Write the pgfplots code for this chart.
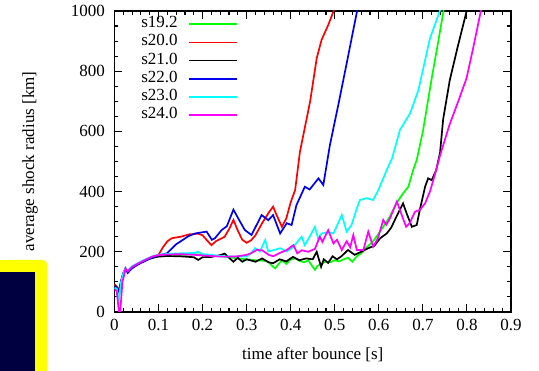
\documentclass[border=0pt]{standalone}
\usepackage{fontspec}
\setmainfont{Liberation Serif}
\usepackage{pgfplots}
\pgfplotsset{compat=1.18}
\definecolor{mgreen}{RGB}{0,255,0}
\definecolor{mred}{RGB}{255,0,0}
\definecolor{mblue}{RGB}{0,0,240}
\definecolor{mcyan}{RGB}{0,255,255}
\definecolor{mmag}{RGB}{255,0,255}
\definecolor{navyb}{RGB}{0,0,64}
\definecolor{ybox}{RGB}{255,255,0}
\begin{document}
\begin{tikzpicture}
\useasboundingbox (0,0) rectangle (539pt,371pt);
\begin{axis}[
  at={(114.5pt,59pt)}, anchor=south west,
  scale only axis, width=396.5pt, height=301pt,
  xmin=0, xmax=0.9, ymin=0, ymax=1000,
  xtick={0,0.1,...,0.9}, ytick={0,200,...,1000},
  xticklabels={0,0.1,0.2,0.3,0.4,0.5,0.6,0.7,0.8,0.9},
  yticklabels={0,200,400,600,800,1000},
  minor x tick num=4, minor y tick num=3,
  tick align=inside,
  major tick length=8pt, minor tick length=4pt,
  every tick/.style={black, line width=1.1pt},
  axis line style={line width=1.4pt},
  /pgf/number format/assume math mode=true,
  tick label style={font=\rmfamily\fontsize{17}{20}\selectfont},
  xticklabel style={yshift=-4pt},
  yticklabel style={xshift=-6pt},
  label style={font=\rmfamily\fontsize{17}{20}\selectfont},
  xlabel={time after bounce [s]},
  ylabel={average shock radius [km]},
  xlabel style={at={(axis description cs:0.5,-0.143)}, anchor=center},
  ylabel style={at={(axis description cs:-0.213,0.5)}, anchor=center},
  legend plot pos=right,
  legend cell align=left,
  legend style={draw=none, fill=none, at={(axis description cs:0.067,0.987)}, anchor=north west,
    inner sep=0pt, column sep=11pt, row sep=0pt,
    font=\rmfamily\fontsize{17}{20}\selectfont,
    nodes={inner sep=0pt, text height=12.5pt, text depth=5.7pt}},
  legend image code/.code={\draw[#1] (0pt,0pt) -- (48pt,0pt);},
  every axis plot/.append style={line width=1.7pt},
]
% s19.2
\addplot[mgreen] coordinates {
(0,90) (0.005,80) (0.01,50) (0.015,95) (0.02,128) (0.025,142) (0.03,135) (0.04,150) (0.05,158) (0.06,166) (0.07,173) (0.08,180) (0.09,185) (0.1,188) (0.12,190) (0.14,191) (0.16,190) (0.18,192) (0.2,190) (0.22,188) (0.24,185) (0.26,182) (0.28,178) (0.30,175) (0.32,172) (0.34,170) (0.35,166) (0.36,150) (0.365,145) (0.37,155) (0.38,172) (0.39,160) (0.40,175) (0.41,178) (0.42,170) (0.43,165) (0.44,172) (0.45,150) (0.455,140) (0.46,152) (0.47,160) (0.48,168) (0.49,165) (0.50,172) (0.51,168) (0.52,175) (0.53,180) (0.54,167) (0.55,185) (0.56,195) (0.57,212) (0.58,225) (0.59,240) (0.60,262) (0.61,283) (0.625,317) (0.64,361) (0.655,394) (0.667,416) (0.678,472) (0.686,505) (0.70,600) (0.72,776) (0.735,900) (0.748,1010)
};
\addlegendentry{s19.2}
% s20.0
\addplot[mred] coordinates {
(0,92) (0.005,85) (0.01,72) (0.015,100) (0.02,126) (0.025,140) (0.03,133) (0.04,148) (0.05,156) (0.06,165) (0.07,172) (0.08,178) (0.09,184) (0.1,190) (0.11,215) (0.12,235) (0.13,245) (0.15,250) (0.17,258) (0.19,260) (0.2,255) (0.21,238) (0.22,222) (0.23,235) (0.25,250) (0.26,275) (0.27,306) (0.28,270) (0.29,240) (0.30,230) (0.31,238) (0.32,255) (0.335,295) (0.35,330) (0.36,350) (0.368,322) (0.38,283) (0.39,311) (0.40,365) (0.41,405) (0.421,533) (0.444,699) (0.459,843) (0.47,904) (0.485,953) (0.5,1010)
};
\addlegendentry{s20.0}
% s21.0
\addplot[black] coordinates {
(0,88) (0.005,80) (0.01,60) (0.015,98) (0.02,125) (0.025,140) (0.03,133) (0.04,148) (0.05,156) (0.06,164) (0.07,171) (0.08,177) (0.09,181) (0.1,184) (0.12,186) (0.15,185) (0.18,182) (0.19,173) (0.2,182) (0.22,183) (0.24,189) (0.25,194) (0.26,180) (0.27,167) (0.28,180) (0.29,167) (0.30,175) (0.32,167) (0.335,178) (0.35,165) (0.36,162) (0.375,175) (0.39,168) (0.405,183) (0.42,172) (0.435,178) (0.45,175) (0.459,200) (0.469,150) (0.475,175) (0.485,163) (0.495,185) (0.505,175) (0.515,185) (0.53,206) (0.545,190) (0.56,200) (0.576,212) (0.59,220) (0.603,245) (0.618,261) (0.628,280) (0.64,317) (0.655,361) (0.663,328) (0.675,283) (0.686,289) (0.693,339) (0.705,416) (0.712,444) (0.72,438) (0.73,470) (0.739,530) (0.746,640) (0.761,770) (0.78,887) (0.801,1010)
};
\addlegendentry{s21.0}
% s22.0
\addplot[mblue] coordinates {
(0,85) (0.005,80) (0.01,68) (0.015,105) (0.02,130) (0.025,145) (0.03,130) (0.04,145) (0.05,155) (0.06,163) (0.07,170) (0.08,177) (0.09,183) (0.1,188) (0.119,195) (0.14,225) (0.168,252) (0.183,261) (0.209,267) (0.221,240) (0.228,245) (0.243,272) (0.255,285) (0.27,340) (0.285,300) (0.296,272) (0.311,256) (0.334,322) (0.349,305) (0.36,322) (0.376,261) (0.391,295) (0.402,289) (0.413,355) (0.432,416) (0.443,407) (0.463,444) (0.474,422) (0.489,555) (0.508,688) (0.527,826) (0.552,1010)
};
\addlegendentry{s22.0}
% s23.0
\addplot[mcyan] coordinates {
(0,80) (0.005,78) (0.01,40) (0.015,100) (0.02,128) (0.025,145) (0.03,138) (0.04,152) (0.05,160) (0.06,168) (0.07,175) (0.08,181) (0.09,187) (0.1,190) (0.12,193) (0.15,195) (0.18,196) (0.19,200) (0.2,192) (0.22,190) (0.24,186) (0.26,184) (0.28,185) (0.30,184) (0.31,195) (0.319,212) (0.33,201) (0.342,239) (0.349,201) (0.36,205) (0.376,212) (0.391,201) (0.405,215) (0.425,250) (0.432,222) (0.443,250) (0.455,283) (0.463,239) (0.47,261) (0.485,265) (0.497,261) (0.516,322) (0.527,267) (0.538,289) (0.55,344) (0.557,372) (0.572,378) (0.587,372) (0.599,405) (0.618,472) (0.63,510) (0.648,605) (0.671,660) (0.69,738) (0.716,909) (0.741,1010)
};
\addlegendentry{s23.0}
% s24.0
\addplot[mmag] coordinates {
(0,75) (0.005,70) (0.01,0) (0.013,0) (0.018,100) (0.021,117) (0.025,145) (0.03,135) (0.04,150) (0.055,162) (0.07,173) (0.085,184) (0.1,189) (0.12,191) (0.15,192) (0.18,190) (0.2,188) (0.22,186) (0.24,184) (0.26,184) (0.28,185) (0.30,190) (0.31,195) (0.323,206) (0.335,205) (0.35,190) (0.36,185) (0.375,196) (0.39,205) (0.406,222) (0.415,195) (0.425,205) (0.44,200) (0.455,210) (0.466,250) (0.472,233) (0.485,272) (0.497,228) (0.505,240) (0.516,206) (0.527,235) (0.535,215) (0.542,256) (0.55,206) (0.565,206) (0.576,267) (0.587,217) (0.598,245) (0.61,306) (0.617,290) (0.625,310) (0.641,367) (0.652,322) (0.662,283) (0.67,295) (0.682,333) (0.693,339) (0.705,361) (0.716,400) (0.727,455) (0.739,520) (0.76,620) (0.78,699) (0.799,776) (0.814,876) (0.833,1010)
};
\addlegendentry{s24.0}
\end{axis}
\fill[ybox, rounded corners=4pt] (0,0) -- (0,111pt) -- (47pt,111pt) -- (47pt,0) -- cycle;
\fill[ybox] (0,0) rectangle (10pt,111pt);
\fill[ybox] (0,0) rectangle (47pt,10pt);
\fill[navyb] (0,0) rectangle (35pt,99pt);
\end{tikzpicture}
\end{document}
